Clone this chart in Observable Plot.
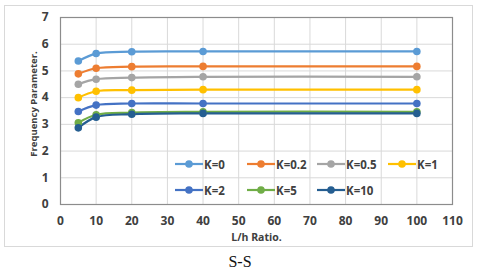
<!DOCTYPE html>
<html>
<head>
<meta charset="utf-8">
<script src="https://cdn.jsdelivr.net/npm/d3@7"></script>
<script src="https://cdn.jsdelivr.net/npm/@observablehq/plot@0.6"></script>
<style>
  html, body { margin: 0; padding: 0; background: #fff; }
  #wrap { position: relative; width: 480px; height: 270px; overflow: hidden; font-family: "Open Sans", sans-serif; }
  #outer { position: absolute; left: 4px; top: 5px; width: 469px; height: 242px; border: 1px solid #d9d9d9; box-sizing: border-box; pointer-events: none; }
  #caption { position: absolute; left: 0; width: 480px; top: 253px; line-height: normal; text-align: center; font-family: "Liberation Serif", "Times New Roman", serif; font-size: 16px; color: #111; }
  .leg { position: absolute; display: flex; align-items: center; font-weight: bold; font-size: 11.5px; color: #404040; }
  #chart { position: absolute; left: 0; top: 0; }
  #ylab { position: absolute; left: 33px; top: 104px; transform: translate(-50%, -50%) rotate(-90deg); white-space: nowrap; font-weight: bold; font-size: 9.5px; color: #404040; }
</style>
</head>
<body>
<div id="wrap">
  <div id="outer"></div>
  <div id="chart"></div>
  <div id="legend"></div>
  <div id="ylab"></div>
  <div id="caption">S-S</div>
</div>
<script>
// L/h ratios
const lhRatios = [5, 10, 20, 40, 100];
// Series labels and colours
const seriesLabels = ["K=0", "K=0.2", "K=0.5", "K=1", "K=2", "K=5", "K=10"];
const seriesColors = ["#5B9BD5", "#ED7D31", "#A5A5A5", "#FFC000", "#4472C4", "#70AD47", "#255E91"];
// Frequency parameter values per series
const k0   = [5.37, 5.65, 5.72, 5.73, 5.73];
const k02  = [4.89, 5.10, 5.16, 5.17, 5.17];
const k05  = [4.50, 4.69, 4.75, 4.78, 4.78];
const k1   = [4.00, 4.24, 4.28, 4.30, 4.30];
const k2   = [3.48, 3.72, 3.78, 3.78, 3.78];
const k5   = [3.06, 3.36, 3.44, 3.47, 3.47];
const k10  = [2.87, 3.27, 3.38, 3.41, 3.41];
const xTicks = [0, 10, 20, 30, 40, 50, 60, 70, 80, 90, 100, 110];
const yTicks = [0, 1, 2, 3, 4, 5, 6, 7];
const xLabel = "L/h Ratio.";
const yLabel = "Frequency Parameter.";

const seriesValues = [k0, k02, k05, k1, k2, k5, k10];
const data = [];
seriesLabels.forEach((s, i) => {
  lhRatios.forEach((x, j) => data.push({series: s, x, y: seriesValues[i][j]}));
});

const chart = Plot.plot({
  width: 480,
  height: 270,
  marginLeft: 60,
  marginRight: 28,
  marginTop: 17,
  marginBottom: 66,
  style: {fontFamily: "'Open Sans', sans-serif", fontSize: "12px", fontWeight: "bold", color: "#404040", background: "transparent"},
  x: {domain: [0, 110], ticks: xTicks, label: null},
  y: {domain: [0, 7], ticks: yTicks, label: null},
  color: {domain: seriesLabels, range: seriesColors},
  marks: [
    Plot.gridX(xTicks, {stroke: "#d9d9d9", strokeOpacity: 1}),
    Plot.gridY(yTicks, {stroke: "#d9d9d9", strokeOpacity: 1}),
    Plot.frame({stroke: "#8c8c8c", strokeWidth: 1.2}),
    Plot.axisX(xTicks, {tickSize: 0, tickPadding: 12, label: null}),
    Plot.axisY(yTicks, {tickSize: 0, tickPadding: 12, label: null}),
    Plot.line(data, {x: "x", y: "y", z: "series", stroke: "series", strokeWidth: 2.2, curve: "catmull-rom"}),
    Plot.dot(data, {x: "x", y: "y", fill: "series", r: 3.8}),
    Plot.text([xLabel], {frameAnchor: "bottom", dy: 36, fontSize: 10.5, fontWeight: "bold", fill: "#404040"})
  ]
});
document.getElementById("chart").appendChild(chart);
document.getElementById("ylab").textContent = yLabel;

// Legend
const legendPos = [
  [175, 164], [247, 164], [317, 164], [388, 164],
  [175, 190], [247, 190], [317, 190]
];
const legend = document.getElementById("legend");
seriesLabels.forEach((s, i) => {
  const d = document.createElement("div");
  d.className = "leg";
  d.style.left = legendPos[i][0] + "px";
  d.style.top = (legendPos[i][1] - 8) + "px";
  d.style.height = "16px";
  d.innerHTML = `<svg width="28" height="16"><line x1="0" x2="28" y1="8" y2="8" stroke="${seriesColors[i]}" stroke-width="2.2"/><circle cx="14" cy="8" r="3.8" fill="${seriesColors[i]}"/></svg><span style="margin-left:1px">${s}</span>`;
  legend.appendChild(d);
});
</script>
</body>
</html>
